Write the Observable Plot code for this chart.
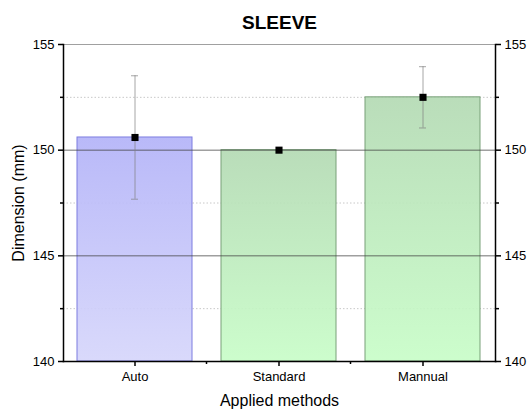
<!DOCTYPE html>
<html>
<head>
<meta charset="utf-8">
<script src="https://cdn.jsdelivr.net/npm/d3@7"></script>
<script src="https://cdn.jsdelivr.net/npm/@observablehq/plot@0.6"></script>
<style>
  html, body { margin: 0; padding: 0; background: #fff; }
  svg { font-family: "Liberation Sans", Arial, sans-serif; }
</style>
</head>
<body>
<div id="chart"></div>
<script>
const categories = ["Auto", "Standard", "Mannual"];
const means = [150.6, 150.0, 152.5];
const errors = [2.92, 0, 1.45];
const groups = ["blue", "green", "green"];
const majorTicks = [140, 145, 150, 155];
const minorTicks = [142.5, 147.5, 152.5];

const data = categories.map((c, i) => ({cat: c, mean: means[i], err: errors[i], group: groups[i]}));
const withErr = data.filter(d => d.err > 0);

const defs = () => {
  const g = d3.create("svg:defs");
  const mk = (id, top, bottom) => {
    const lg = g.append("linearGradient").attr("id", id).attr("x1", 0).attr("y1", 0).attr("x2", 0).attr("y2", 1);
    lg.append("stop").attr("offset", "0%").attr("stop-color", top);
    lg.append("stop").attr("offset", "100%").attr("stop-color", bottom);
  };
  mk("gBlue", "#b3b3f8", "#d6d6fb");
  mk("gGreen", "#b4dab4", "#c8fdc8");
  return g.node();
};

// minor x ticks at the boundaries between categories
const minorX = (index, scales, values, dimensions) => {
  const x = scales.x;
  const step = x.step ? x.step() : x.bandwidth();
  const bw = x.bandwidth();
  const y0 = dimensions.height - dimensions.marginBottom;
  const g = d3.create("svg:g").attr("stroke", "#000").attr("stroke-width", 1.5);
  categories.slice(0, -1).forEach(c => {
    const px = x(c) + bw + (step - bw) / 2;
    g.append("line").attr("x1", px).attr("x2", px).attr("y1", y0).attr("y2", y0 + 3);
  });
  return g.node();
};

const plot = Plot.plot({
  width: 529,
  height: 412,
  marginLeft: 63,
  marginRight: 34,
  marginTop: 44,
  marginBottom: 51,
  style: {fontFamily: "Liberation Sans, Arial, sans-serif", fontSize: "13px", color: "#000", background: "#fff"},
  x: {domain: categories, paddingInner: 0.2, paddingOuter: 0.1, label: null, axis: null},
  y: {domain: [140, 155], label: null, axis: null},
  marks: [
    defs,
    Plot.ruleY(minorTicks, {stroke: "#c8c8c8", strokeDasharray: "1.5,2", strokeWidth: 1}),
    Plot.barY(data.filter(d => d.group === "blue"), {x: "cat", y1: 140, y2: "mean", fill: "url(#gBlue)", fillOpacity: 0.92, stroke: "#7d7de0", strokeWidth: 1}),
    Plot.barY(data.filter(d => d.group === "green"), {x: "cat", y1: 140, y2: "mean", fill: "url(#gGreen)", fillOpacity: 0.92, stroke: "#78a078", strokeWidth: 1}),
    Plot.ruleY([145, 150], {stroke: "#404040", strokeOpacity: 0.75, strokeWidth: 1}),
    Plot.ruleY([155], {stroke: "#a0a0a0", strokeWidth: 1}),
    Plot.ruleX(withErr, {x: "cat", y1: d => d.mean - d.err, y2: d => d.mean + d.err, stroke: "#808080", strokeOpacity: 0.7, strokeWidth: 1}),
    Plot.tickY(withErr, {x: "cat", y: d => d.mean + d.err, stroke: "#808080", strokeOpacity: 0.7, insetLeft: 54, insetRight: 54}),
    Plot.tickY(withErr, {x: "cat", y: d => d.mean - d.err, stroke: "#808080", strokeOpacity: 0.7, insetLeft: 54, insetRight: 54}),
    Plot.dot(data, {x: "cat", y: "mean", symbol: "square", r: 4, fill: "#000", stroke: "none"}),
    Plot.axisY(majorTicks, {anchor: "left", tickSize: 5, tickPadding: 4, fontSize: 13, stroke: "#000", strokeWidth: 1.5, label: null}),
    Plot.axisY(minorTicks, {anchor: "left", tickSize: 3, tickFormat: () => "", stroke: "#000", strokeWidth: 1.5, label: null}),
    Plot.axisY(majorTicks, {anchor: "right", tickSize: 5, tickPadding: 4, fontSize: 13, stroke: "#000", strokeWidth: 1.5, label: null}),
    Plot.axisY(minorTicks, {anchor: "right", tickSize: 3, tickFormat: () => "", stroke: "#000", strokeWidth: 1.5, label: null}),
    Plot.frame({anchor: "left", stroke: "#000", strokeWidth: 1.5}),
    Plot.frame({anchor: "right", stroke: "#000", strokeWidth: 1.5}),
    Plot.frame({anchor: "bottom", stroke: "#000", strokeWidth: 1.5}),
    Plot.axisX({anchor: "bottom", tickSize: 5, tickPadding: 5, fontSize: 13, stroke: "#000", strokeWidth: 1.5, label: null}),
    minorX,
    Plot.text(["SLEEVE"], {frameAnchor: "top", lineAnchor: "middle", dy: -22, fontSize: 19, fontWeight: "bold", fill: "#000"}),
    Plot.text(["Applied methods"], {frameAnchor: "bottom", lineAnchor: "middle", dy: 39, fontSize: 16, fill: "#000"}),
    Plot.text(["Dimension (mm)"], {frameAnchor: "left", textAnchor: "middle", lineAnchor: "middle", dx: -45, rotate: -90, fontSize: 16, fill: "#000"})
  ]
});
document.getElementById("chart").appendChild(plot);
</script>
</body>
</html>
